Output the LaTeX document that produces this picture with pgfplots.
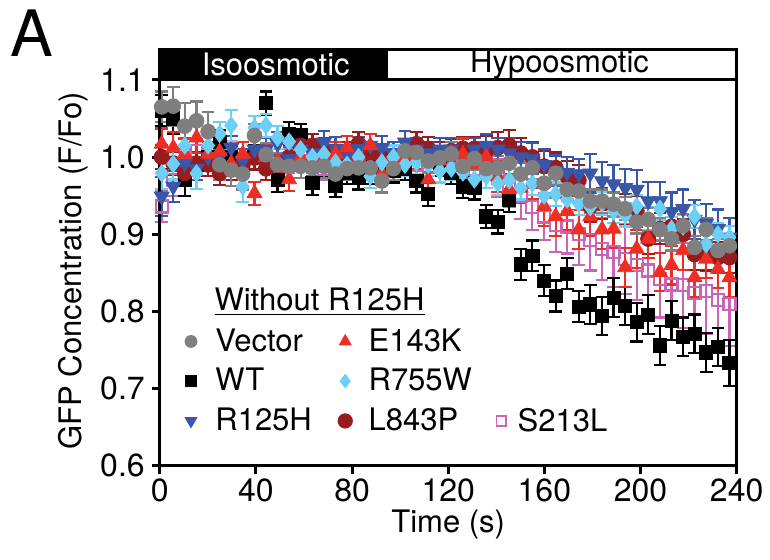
\documentclass[border=0pt]{standalone}
\usepackage{pgfplots}
\usepackage{pgfplotstable}
\pgfplotsset{compat=1.18}
\usepackage{fontspec}
\setmainfont{TeX Gyre Heros}

\definecolor{vecgray}{HTML}{7F7F7F}
\definecolor{r125blue}{HTML}{3A56A8}
\definecolor{e143red}{HTML}{EE2E24}
\definecolor{r755cyan}{HTML}{6CCFF6}
\definecolor{l843dred}{HTML}{981B1E}
\definecolor{s213pink}{HTML}{C965B8}

\pgfplotsset{
    ebar/.style={
        error bars/.cd, y dir=both, y explicit,
        error bar style={line width=1.1pt, #1},
        error mark options={rotate=90, mark size=3.2pt, line width=1.1pt, #1},
    },
}

% t, then mean and SEM for each construct
\pgfplotstableread{
t     vec   ev    wt    ew    rh    erh   ek    eek   rw    erw   lp    elp   sl    esl
0.8   1.065 0.020 1.060 0.020 0.949 0.025 1.017 0.020 0.979 0.020 1.000 0.015 0.936 0.020
5.6   1.066 0.025 1.050 0.020 0.962 0.020 1.012 0.020 0.991 0.020 0.992 0.015 0.970 0.020
10.4  1.040 0.030 0.970 0.020 0.992 0.015 1.004 0.020 1.015 0.020 0.979 0.015 0.990 0.015
15.3  1.047 0.025 0.990 0.015 0.985 0.015 1.025 0.020 0.979 0.020 0.992 0.015 1.008 0.015
20.1  1.033 0.025 1.000 0.015 1.000 0.015 1.004 0.015 1.015 0.015 0.990 0.015 1.000 0.015
24.9  0.990 0.020 1.020 0.015 1.000 0.015 1.007 0.015 1.030 0.015 0.979 0.015 1.019 0.015
29.7  0.983 0.020 1.000 0.015 1.012 0.015 0.992 0.015 1.041 0.020 0.985 0.015 1.004 0.015
34.5  0.978 0.020 0.990 0.015 0.995 0.015 1.004 0.015 0.962 0.020 0.990 0.015 0.995 0.015
39.4  1.028 0.015 1.000 0.015 1.010 0.015 0.953 0.015 1.038 0.015 0.999 0.015 1.000 0.015
44.2  1.003 0.015 1.070 0.015 1.010 0.015 1.000 0.015 1.041 0.015 0.985 0.015 1.000 0.015
49.0  0.990 0.015 0.970 0.015 1.017 0.015 0.995 0.015 1.025 0.015 0.990 0.015 0.990 0.015
53.8  0.988 0.015 1.030 0.015 0.998 0.015 0.971 0.015 1.020 0.015 1.000 0.015 0.995 0.015
58.6  0.988 0.015 1.028 0.015 1.010 0.015 1.000 0.015 1.010 0.015 1.015 0.015 1.000 0.015
63.5  0.986 0.015 0.966 0.015 1.005 0.015 0.990 0.015 1.000 0.015 1.015 0.015 0.995 0.015
68.3  0.988 0.015 0.990 0.015 1.019 0.015 1.000 0.015 1.004 0.015 1.010 0.015 0.985 0.015
73.1  0.978 0.015 0.963 0.015 1.011 0.015 1.004 0.015 0.993 0.015 1.000 0.015 0.990 0.015
77.9  0.985 0.015 0.980 0.015 1.000 0.015 1.012 0.015 0.990 0.015 1.005 0.015 0.990 0.015
82.7  0.986 0.015 0.973 0.015 1.011 0.015 1.000 0.015 1.000 0.015 1.017 0.015 0.995 0.015
87.6  0.986 0.015 0.980 0.015 1.015 0.015 1.015 0.015 0.975 0.015 1.005 0.015 0.985 0.015
92.4  0.969 0.015 0.990 0.015 1.012 0.015 0.979 0.015 0.993 0.015 1.000 0.015 0.990 0.015
97.2  0.985 0.015 0.982 0.015 1.005 0.015 1.000 0.015 1.000 0.015 0.995 0.015 0.995 0.015
102.0 1.008 0.015 0.985 0.015 1.019 0.015 0.998 0.015 0.990 0.015 1.005 0.015 0.985 0.015
106.8 1.006 0.015 0.969 0.015 1.010 0.015 1.000 0.015 0.993 0.015 1.017 0.015 0.990 0.015
111.7 0.995 0.015 0.952 0.015 1.005 0.015 0.971 0.015 0.990 0.015 1.011 0.015 0.995 0.015
116.5 0.999 0.015 0.990 0.015 1.010 0.015 0.995 0.015 0.982 0.015 1.005 0.015 0.990 0.015
121.3 1.004 0.015 0.980 0.015 1.010 0.015 1.005 0.015 0.985 0.015 1.008 0.015 0.985 0.015
126.1 0.988 0.015 0.962 0.015 1.000 0.015 1.004 0.020 0.980 0.015 1.011 0.015 0.990 0.015
130.9 0.998 0.015 0.960 0.015 1.010 0.015 0.990 0.020 0.971 0.015 1.011 0.015 0.985 0.020
135.8 0.985 0.015 0.923 0.015 1.015 0.015 1.000 0.020 0.975 0.015 1.008 0.020 0.980 0.020
140.6 0.986 0.015 0.916 0.015 1.010 0.015 0.975 0.020 0.966 0.015 1.012 0.020 0.973 0.025
145.4 0.992 0.015 0.944 0.015 1.005 0.020 0.958 0.020 0.970 0.015 1.015 0.020 0.960 0.025
150.2 0.978 0.015 0.861 0.020 1.000 0.020 0.960 0.020 0.960 0.015 1.005 0.020 0.950 0.030
155.0 0.986 0.015 0.872 0.020 0.998 0.020 0.965 0.020 0.966 0.015 1.000 0.020 0.935 0.030
159.9 0.966 0.015 0.840 0.020 0.990 0.020 0.936 0.025 0.950 0.015 0.988 0.020 0.923 0.030
164.7 0.979 0.015 0.820 0.020 0.982 0.020 0.923 0.025 0.952 0.015 0.986 0.020 0.912 0.035
169.5 0.958 0.015 0.849 0.020 0.980 0.020 0.930 0.025 0.945 0.015 0.975 0.020 0.910 0.035
174.3 0.956 0.015 0.806 0.020 0.978 0.020 0.906 0.025 0.940 0.015 0.970 0.020 0.900 0.040
179.1 0.943 0.015 0.809 0.025 0.979 0.025 0.923 0.025 0.935 0.015 0.936 0.020 0.893 0.040
184.0 0.943 0.015 0.794 0.025 0.969 0.025 0.906 0.025 0.940 0.015 0.940 0.020 0.881 0.040
188.8 0.939 0.015 0.818 0.025 0.965 0.025 0.907 0.025 0.930 0.015 0.935 0.020 0.877 0.045
193.6 0.933 0.015 0.807 0.025 0.960 0.025 0.857 0.025 0.925 0.015 0.932 0.020 0.868 0.045
198.4 0.916 0.015 0.786 0.025 0.958 0.025 0.881 0.025 0.936 0.015 0.930 0.020 0.860 0.045
203.2 0.919 0.015 0.796 0.025 0.943 0.025 0.894 0.025 0.920 0.015 0.894 0.020 0.853 0.050
208.1 0.906 0.015 0.756 0.025 0.943 0.025 0.851 0.025 0.933 0.015 0.907 0.020 0.842 0.050
212.9 0.894 0.015 0.788 0.025 0.929 0.025 0.860 0.025 0.907 0.015 0.910 0.020 0.835 0.050
217.7 0.911 0.015 0.767 0.025 0.933 0.025 0.879 0.025 0.910 0.015 0.900 0.020 0.834 0.055
222.5 0.883 0.015 0.771 0.025 0.919 0.025 0.844 0.025 0.923 0.015 0.874 0.020 0.824 0.055
227.3 0.906 0.015 0.747 0.025 0.914 0.025 0.868 0.025 0.887 0.015 0.873 0.020 0.826 0.055
232.2 0.879 0.015 0.754 0.025 0.907 0.025 0.855 0.025 0.900 0.015 0.870 0.020 0.815 0.055
237.0 0.885 0.015 0.733 0.030 0.896 0.025 0.844 0.025 0.896 0.015 0.870 0.020 0.810 0.055
}\gfpdata

\begin{document}
\begin{tikzpicture}
\begin{axis}[
    scale only axis,
    width=288.5pt, height=193pt,
    xmin=0, xmax=240, ymin=0.6, ymax=1.1,
    xtick={0,40,...,240},
    ytick={0.6,0.7,...,1.1},
    yticklabel style={/pgf/number format/.cd, fixed, fixed zerofill, precision=1},
    /pgf/number format/assume math mode=true,
    tick label style={font=\fontsize{16}{18}\selectfont},
    xticklabel style={yshift=1pt},
    tick align=outside, xtick pos=bottom, ytick pos=left,
    major tick length=4pt,
    tick style={line width=1.5pt, black},
    axis line style={line width=1.5pt},
    font=\fontsize{15.5}{18}\selectfont,
    xlabel={Time (s)},
    ylabel={GFP Concentration (F/Fo)},
    xlabel style={at={(rel axis cs:0.5,-0.152)}, anchor=center},
    ylabel style={at={(rel axis cs:-0.15,0.505)}, anchor=center},
    clip=false,
    axis on top,
    legend columns=3,
    legend cell align=left,
    legend image code/.code={\path (-5pt,0pt) (5pt,0pt); \draw[#1] plot coordinates {(0pt,0pt)};},
    legend style={at={(0.025,0.377)}, anchor=north west, draw=none, fill=none,
        font=\fontsize{15.5}{18}\selectfont, row sep=3pt,
        /tikz/column 1/.style={column sep=5pt},
        /tikz/column 2/.style={column sep=9.5pt},
        /tikz/column 3/.style={column sep=4.5pt},
        /tikz/column 4/.style={column sep=7.5pt},
        /tikz/column 5/.style={column sep=1pt}},
]
\addplot[forget plot, only marks, mark=square, s213pink, mark size=3pt,
    mark options={fill=white, line width=1.1pt}, ebar=s213pink]
    table[x=t, y=sl, y error=esl] {\gfpdata};
\addplot[forget plot, only marks, mark=square*, black, mark size=3.3pt, ebar=black]
    table[x=t, y=wt, y error=ew] {\gfpdata};
\addplot[forget plot, only marks, mark=*, l843dred, mark size=3.8pt, ebar=l843dred]
    table[x=t, y=lp, y error=elp] {\gfpdata};
\addplot[forget plot, only marks, mark=triangle*, r125blue, mark size=4.3pt,
    mark options={rotate=180}, ebar=r125blue]
    table[x=t, y=rh, y error=erh] {\gfpdata};
\addplot[forget plot, only marks, mark=triangle*, e143red, mark size=4.3pt, ebar=e143red]
    table[x=t, y=ek, y error=eek] {\gfpdata};
\addplot[forget plot, only marks, mark=diamond*, r755cyan, mark size=4.3pt, ebar=r755cyan]
    table[x=t, y=rw, y error=erw] {\gfpdata};
\addplot[forget plot, only marks, mark=*, vecgray, mark size=3.7pt, ebar=vecgray]
    table[x=t, y=vec, y error=ev] {\gfpdata};

% legend, three columns
\addlegendimage{only marks, mark=*, vecgray, mark size=3pt}
\addlegendentry{Vector}
\addlegendimage{only marks, mark=triangle*, e143red, mark size=3.4pt}
\addlegendentry{E143K}
\addlegendimage{empty legend}
\addlegendentry{}
\addlegendimage{only marks, mark=square*, black, mark size=2.8pt}
\addlegendentry{WT}
\addlegendimage{only marks, mark=diamond*, r755cyan, mark size=3.4pt}
\addlegendentry{R755W}
\addlegendimage{empty legend}
\addlegendentry{}
\addlegendimage{only marks, mark=triangle*, r125blue, mark size=3.4pt, mark options={rotate=180}}
\addlegendentry{R125H}
\addlegendimage{only marks, mark=*, l843dred, mark size=3.6pt}
\addlegendentry{L843P}
\addlegendimage{only marks, mark=square, s213pink, mark size=2.4pt, mark options={line width=0.8pt}}
\addlegendentry{S213L}

\node at (rel axis cs:0.277,0.425) {\underline{Without R125H}};

% condition banner
\fill[black] (rel axis cs:0,1) rectangle (rel axis cs:0.395,1.078);
\draw[line width=1.5pt] (rel axis cs:0,1) rectangle (rel axis cs:1,1.078);
\node[white] at (rel axis cs:0.201,1.039) {Isoosmotic};
\node at (rel axis cs:0.693,1.039) {Hypoosmotic};

\node at (rel axis cs:-0.222,1.12) {\fontsize{32}{36}\selectfont A};
\path (rel axis cs:-0.277,-0.2435) rectangle (rel axis cs:1.057,1.207);
\end{axis}
\end{tikzpicture}
\end{document}
